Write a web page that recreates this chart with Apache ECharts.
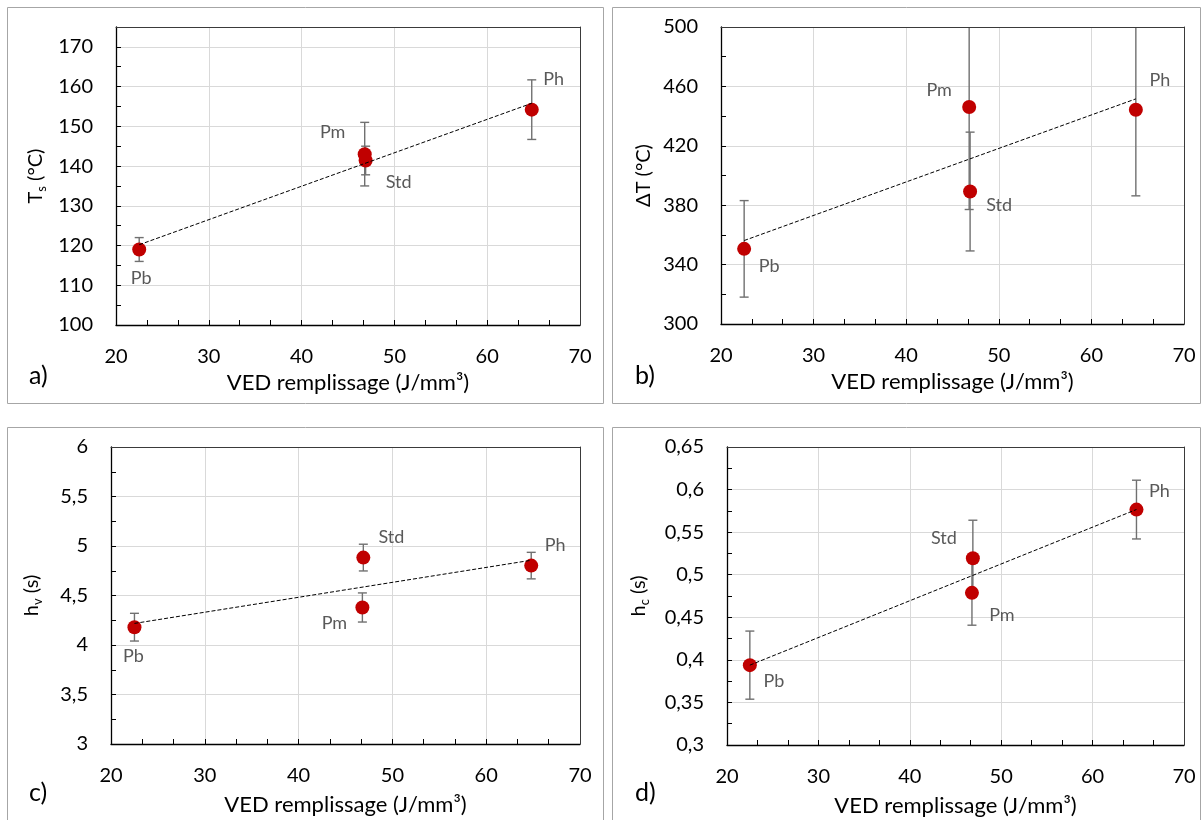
<!DOCTYPE html>
<html>
<head>
<meta charset="utf-8">
<script src="https://cdn.jsdelivr.net/npm/echarts@6/dist/echarts.min.js"></script>
<style>
  html, body { margin: 0; padding: 0; background: #ffffff; }
  #chart { width: 1204px; height: 820px; }
</style>
</head>
<body>
<div id="chart"></div>
<script>
// ---------------- DATA ----------------
const categories = ['Pb', 'Pm', 'Std', 'Ph'];
const vedFill = [22.5, 46.8, 46.9, 64.8];          // VED remplissage (J/mm3)

const tsValues = [119.0, 143.0, 141.4, 154.2];       // a) Ts (°C)
const tsErrors = [3.0, 8.0, 3.6, 7.5];
const tsTrend  = [[22.5, 120.2], [64.8, 155.8]];

const dtValues = [350.6, 446.1, 389.2, 444.3];       // b) ΔT (°C)
const dtErrors = [32.5, 69.0, 40.0, 58.0];
const dtTrend  = [[22.5, 356.2], [64.8, 451.6]];

const hvValues = [4.18, 4.379, 4.883, 4.802];        // c) hv (s)
const hvErrors = [0.14, 0.147, 0.135, 0.134];
const hvTrend  = [[22.5, 4.218], [64.8, 4.856]];

const hcValues = [0.3938, 0.4787, 0.5194, 0.5765];   // d) hc (s)
const hcErrors = [0.040, 0.038, 0.0446, 0.0345];
const hcTrend  = [[22.5, 0.3938], [64.8, 0.5766]];

const xTickLabels = ['20', '30', '40', '50', '60', '70'];

// ---------------- LAYOUT / STYLE ----------------
const FONT = 'Lato, "Open Sans", sans-serif';
const panels = [
  { key: 'a', letter: 'a)', values: tsValues, errors: tsErrors, trend: tsTrend,
    ymin: 100, ymax: 175, yint: 10, yminor: 5, hideMax: true,
    yname: '{m|T}{s|s}{m| (°C)}', yGap: 68, xGap: 47,
    grid: { left: 116, top: 27, width: 464, height: 298 },
    box: [7, 7, 596, 396], letterPos: [29, 377],
    offsets: { Pb: [2, 29], Pm: [-32, -22], Std: [33, 22], Ph: [22, -30] } },
  { key: 'b', letter: 'b)', values: dtValues, errors: dtErrors, trend: dtTrend,
    ymin: 300, ymax: 500, yint: 40, yminor: 20, hideMax: false,
    yname: '{m|ΔT (°C)}', yGap: 65, xGap: 47,
    grid: { left: 721, top: 27, width: 463, height: 297 },
    box: [612, 7, 588, 396], letterPos: [635, 377],
    offsets: { Pb: [25, 17], Pm: [-30, -17], Std: [29, 14], Ph: [24, -30] } },
  { key: 'c', letter: 'c)', values: hvValues, errors: hvErrors, trend: hvTrend,
    ymin: 3, ymax: 6, yint: 0.5, yminor: 0.25, hideMax: false,
    yname: '{m|h}{s|v}{m| (s)}', yGap: 67, xGap: 50,
    grid: { left: 111, top: 447, width: 469, height: 297 },
    box: [7, 427, 596, 400], letterPos: [29, 794],
    offsets: { Pb: [-1, 29], Pm: [-28, 16], Std: [28, -20], Ph: [24, -20] } },
  { key: 'd', letter: 'd)', values: hcValues, errors: hcErrors, trend: hcTrend,
    ymin: 0.3, ymax: 0.65, yint: 0.05, yminor: 0.025, hideMax: false,
    yname: '{m|h}{s|c}{m| (s)}', yGap: 76, xGap: 50,
    grid: { left: 727, top: 447, width: 457, height: 298 },
    box: [612, 427, 588, 400], letterPos: [635, 794],
    offsets: { Pb: [24, 16], Pm: [30, 22], Std: [-29, -20], Ph: [23, -18] } }
];

function fmtComma(v) {
  const r = Math.round(v * 10000) / 10000;
  return String(r).replace('.', ',');
}

const grids = [], xAxes = [], yAxes = [], series = [], graphics = [];

panels.forEach((p, i) => {
  grids.push(Object.assign({ show: false, containLabel: false }, p.grid));

  xAxes.push({
    gridIndex: i, type: 'value', min: 20, max: 70, interval: 10, position: 'bottom',
    name: 'VED remplissage (J/mm³)', nameLocation: 'middle', nameGap: p.xGap,
    nameTextStyle: { fontFamily: FONT, fontSize: 22, color: '#000' },
    axisLine: { show: true, onZero: false, lineStyle: { color: '#000', width: 1.3 } },
    axisTick: { show: true, inside: true, length: 5, lineStyle: { color: '#000' } },
    minorTick: { show: true, splitNumber: 3, length: 5, lineStyle: { color: '#000' } },
    axisLabel: { fontFamily: FONT, fontSize: 20, color: '#000', margin: 22,
      formatter: v => xTickLabels[Math.round((v - 20) / 10)] || '' },
    splitLine: { show: true, showMinLine: false, showMaxLine: false,
      lineStyle: { color: '#d9d9d9', width: 1 } },
    minorSplitLine: { show: false }
  });
  const mainX = xAxes.length - 1;
  // top frame line
  xAxes.push({
    gridIndex: i, type: 'value', min: 20, max: 70, position: 'top', z: 5,
    axisLine: { show: true, onZero: false, lineStyle: { color: '#3a3a3a', width: 1 } },
    axisTick: { show: false }, axisLabel: { show: false }, splitLine: { show: false }
  });

  // main y axis: labels, gridlines
  yAxes.push({
    gridIndex: i, type: 'value', min: p.ymin, max: p.ymax, interval: p.yint, position: 'left',
    name: p.yname, nameLocation: 'middle', nameGap: p.yGap,
    nameRotate: 90,
    nameTextStyle: { fontFamily: FONT, fontSize: 20, color: '#000',
      rich: {
        m: { fontFamily: FONT, fontSize: 20, color: '#000', lineHeight: 22, padding: [0, 0, 3, 0], verticalAlign: 'top' },
        s: { fontFamily: FONT, fontSize: 13, color: '#000', lineHeight: 13, verticalAlign: 'bottom' }
      } },
    axisLine: { show: true, onZero: false, lineStyle: { color: '#000', width: 1.3 } },
    axisTick: { show: false },
    axisLabel: { fontFamily: FONT, fontSize: 20, color: '#000', margin: 23,
      showMaxLabel: !p.hideMax,
      formatter: v => fmtComma(v) },
    splitLine: { show: true, showMinLine: false, showMaxLine: false,
      lineStyle: { color: '#d9d9d9', width: 1 } }
  });
  const mainY = yAxes.length - 1;
  // tick-only y axis (minor + major inside ticks)
  yAxes.push({
    gridIndex: i, type: 'value', min: p.ymin, max: p.ymax, interval: p.yminor,
    position: 'left',
    axisLine: { show: false, onZero: false },
    axisTick: { show: true, inside: true, length: 5, lineStyle: { color: '#000' } },
    axisLabel: { show: false },
    splitLine: { show: false }
  });
  // right frame line
  yAxes.push({
    gridIndex: i, type: 'value', min: p.ymin, max: p.ymax, position: 'right', z: 5,
    axisLine: { show: true, onZero: false, lineStyle: { color: '#3a3a3a', width: 1 } },
    axisTick: { show: false }, axisLabel: { show: false }, splitLine: { show: false }
  });

  const errData = categories.map((c, k) => [vedFill[k], p.values[k], p.errors[k]]);
  series.push({
    type: 'custom', xAxisIndex: mainX, yAxisIndex: mainY, clip: true, z: 2,
    silent: true,
    renderItem: (params, api) => {
      const x = api.value(0), y = api.value(1), e = api.value(2);
      const t = api.coord([x, y + e]);
      const b = api.coord([x, y - e]);
      const w = 4.5;
      const st = { stroke: '#707070', lineWidth: 1.4 };
      return { type: 'group', children: [
        { type: 'line', shape: { x1: t[0], y1: t[1], x2: b[0], y2: b[1] }, style: st },
        { type: 'line', shape: { x1: t[0] - w, y1: t[1], x2: t[0] + w, y2: t[1] }, style: st },
        { type: 'line', shape: { x1: b[0] - w, y1: b[1], x2: b[0] + w, y2: b[1] }, style: st }
      ] };
    },
    data: errData
  });

  series.push({
    type: 'scatter', xAxisIndex: mainX, yAxisIndex: mainY, z: 3,
    symbol: 'circle', symbolSize: 14,
    itemStyle: { color: '#c00000', opacity: 1 },
    label: { show: true, position: 'inside', formatter: '{b}',
      fontFamily: FONT, fontSize: 18, color: '#595959' },
    data: categories.map((c, k) => ({
      name: c, value: [vedFill[k], p.values[k]],
      label: { offset: p.offsets[c] }
    }))
  });

  series.push({
    type: 'line', xAxisIndex: mainX, yAxisIndex: mainY, z: 4,
    symbol: 'none', silent: true,
    lineStyle: { color: '#000', width: 1, type: [4, 2] },
    data: p.trend
  });

  graphics.push({
    type: 'rect', silent: true, z: -1,
    shape: { x: p.box[0] + 0.5, y: p.box[1] + 0.5, width: p.box[2], height: p.box[3] },
    style: { fill: 'none', stroke: '#a6a6a6', lineWidth: 1 }
  });
  graphics.push({
    type: 'text', silent: true, left: p.letterPos[0], top: p.letterPos[1] - 14,
    style: { text: p.letter, fontFamily: FONT, fontSize: 25, fill: '#000' }
  });
});

const chart = echarts.init(document.getElementById('chart'), null, { renderer: 'canvas' });
chart.setOption({
  backgroundColor: '#ffffff',
  animation: false,
  grid: grids,
  xAxis: xAxes,
  yAxis: yAxes,
  series: series,
  graphic: graphics
});
</script>
</body>
</html>
